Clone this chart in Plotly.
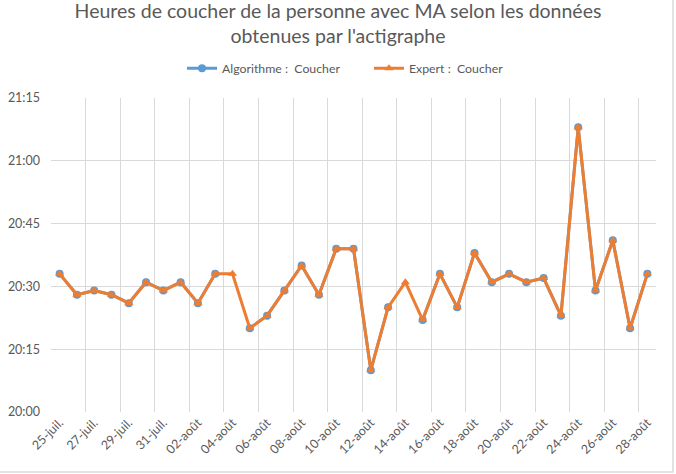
import plotly.graph_objects as go

# ---- data ----
day_labels = ["25-juil.", "26-juil.", "27-juil.", "28-juil.", "29-juil.", "30-juil.", "31-juil.",
              "01-août", "02-août", "03-août", "04-août", "05-août", "06-août", "07-août",
              "08-août", "09-août", "10-août", "11-août", "12-août", "13-août", "14-août",
              "15-août", "16-août", "17-août", "18-août", "19-août", "20-août", "21-août",
              "22-août", "23-août", "24-août", "25-août", "26-août", "27-août", "28-août"]

algorithme = ["20:33", "20:28", "20:29", "20:28", "20:26", "20:31", "20:29",
              "20:31", "20:26", "20:33", None, "20:20", "20:23", "20:29",
              "20:35", "20:28", "20:39", "20:39", "20:10", "20:25", None,
              "20:22", "20:33", "20:25", "20:38", "20:31", "20:33", "20:31",
              "20:32", "20:23", "21:08", "20:29", "20:41", "20:20", "20:33"]

expert = ["20:33", "20:28", "20:29", "20:28", "20:26", "20:31", "20:29",
          "20:31", "20:26", "20:33", "20:33", "20:20", "20:23", "20:29",
          "20:35", "20:28", "20:39", "20:39", "20:10", "20:25", "20:31",
          "20:22", "20:33", "20:25", "20:38", "20:31", "20:33", "20:31",
          "20:32", "20:23", "21:08", "20:29", "20:41", "20:20", "20:33"]

y_tick_labels = ["20:00", "20:15", "20:30", "20:45", "21:00", "21:15"]


def to_min(t):
    if t is None:
        return None
    h, m = t.split(":")
    return (int(h) - 20) * 60 + int(m)


x = list(range(len(day_labels)))
tickvals = x[::2]
ticktext = day_labels[::2]

FONT = "Lato"
GREY = "#595959"
GRID = "#D9D9D9"

fig = go.Figure()
fig.add_trace(go.Scatter(
    x=x, y=[to_min(v) for v in algorithme], mode="lines+markers",
    name="Algorithme :  Coucher", connectgaps=False,
    line=dict(color="#5B9BD5", width=3),
    marker=dict(symbol="circle", size=8, color="#5B9BD5"),
))
fig.add_trace(go.Scatter(
    x=x, y=[to_min(v) for v in expert], mode="lines+markers",
    name="Expert :  Coucher", connectgaps=False,
    line=dict(color="#ED7D31", width=3),
    marker=dict(symbol="triangle-up", size=8, color="#ED7D31"),
))

fig.update_layout(
    width=676, height=474,
    margin=dict(l=51, r=20, t=98, b=62, autoexpand=False),
    paper_bgcolor="white", plot_bgcolor="white",
    font=dict(family=FONT, color=GREY, size=12),
    title=dict(
        text="Heures de coucher de la personne avec MA selon les données<br>obtenues par l'actigraphe",
        x=0.5, xanchor="center", xref="container", y=0.963, yanchor="middle", yref="container",
        font=dict(family=FONT, size=19.5, color=GREY),
    ),
    legend=dict(orientation="h", x=(182 - 51) / 605, xanchor="left", y=1.095, yanchor="middle",
                font=dict(family=FONT, size=12.3, color=GREY), itemwidth=30,
                entrywidth=142, entrywidthmode="pixels",
                bgcolor="rgba(0,0,0,0)"),
    xaxis=dict(
        range=[-0.5, 34.5], tickmode="array", tickvals=tickvals, ticktext=ticktext,
        tickangle=-45, showgrid=False, zeroline=False, showline=False, automargin=False,
        tickfont=dict(family=FONT, size=12.5, color=GREY),
        minor=dict(tickmode="array", tickvals=[v - 0.5 for v in tickvals],
                   showgrid=True, gridcolor=GRID, gridwidth=1, ticks=""),
    ),
    yaxis=dict(
        range=[0, 75], tickmode="array",
        tickvals=[to_min(t) for t in y_tick_labels], ticktext=y_tick_labels,
        showgrid=True, gridcolor=GRID, gridwidth=1, zeroline=False, showline=False,
        automargin=False, ticklabelstandoff=10,
        tickfont=dict(family=FONT, size=12.5, color=GREY),
    ),
    shapes=[dict(type="rect", xref="paper", yref="paper",
                 x0=-0.2, x1=(673 - 51) / 605, y0=(412 - 472) / 314, y1=1.4,
                 line=dict(color=GRID, width=1.5), fillcolor="rgba(0,0,0,0)", layer="below")],
)

fig.write_html("out.html")
